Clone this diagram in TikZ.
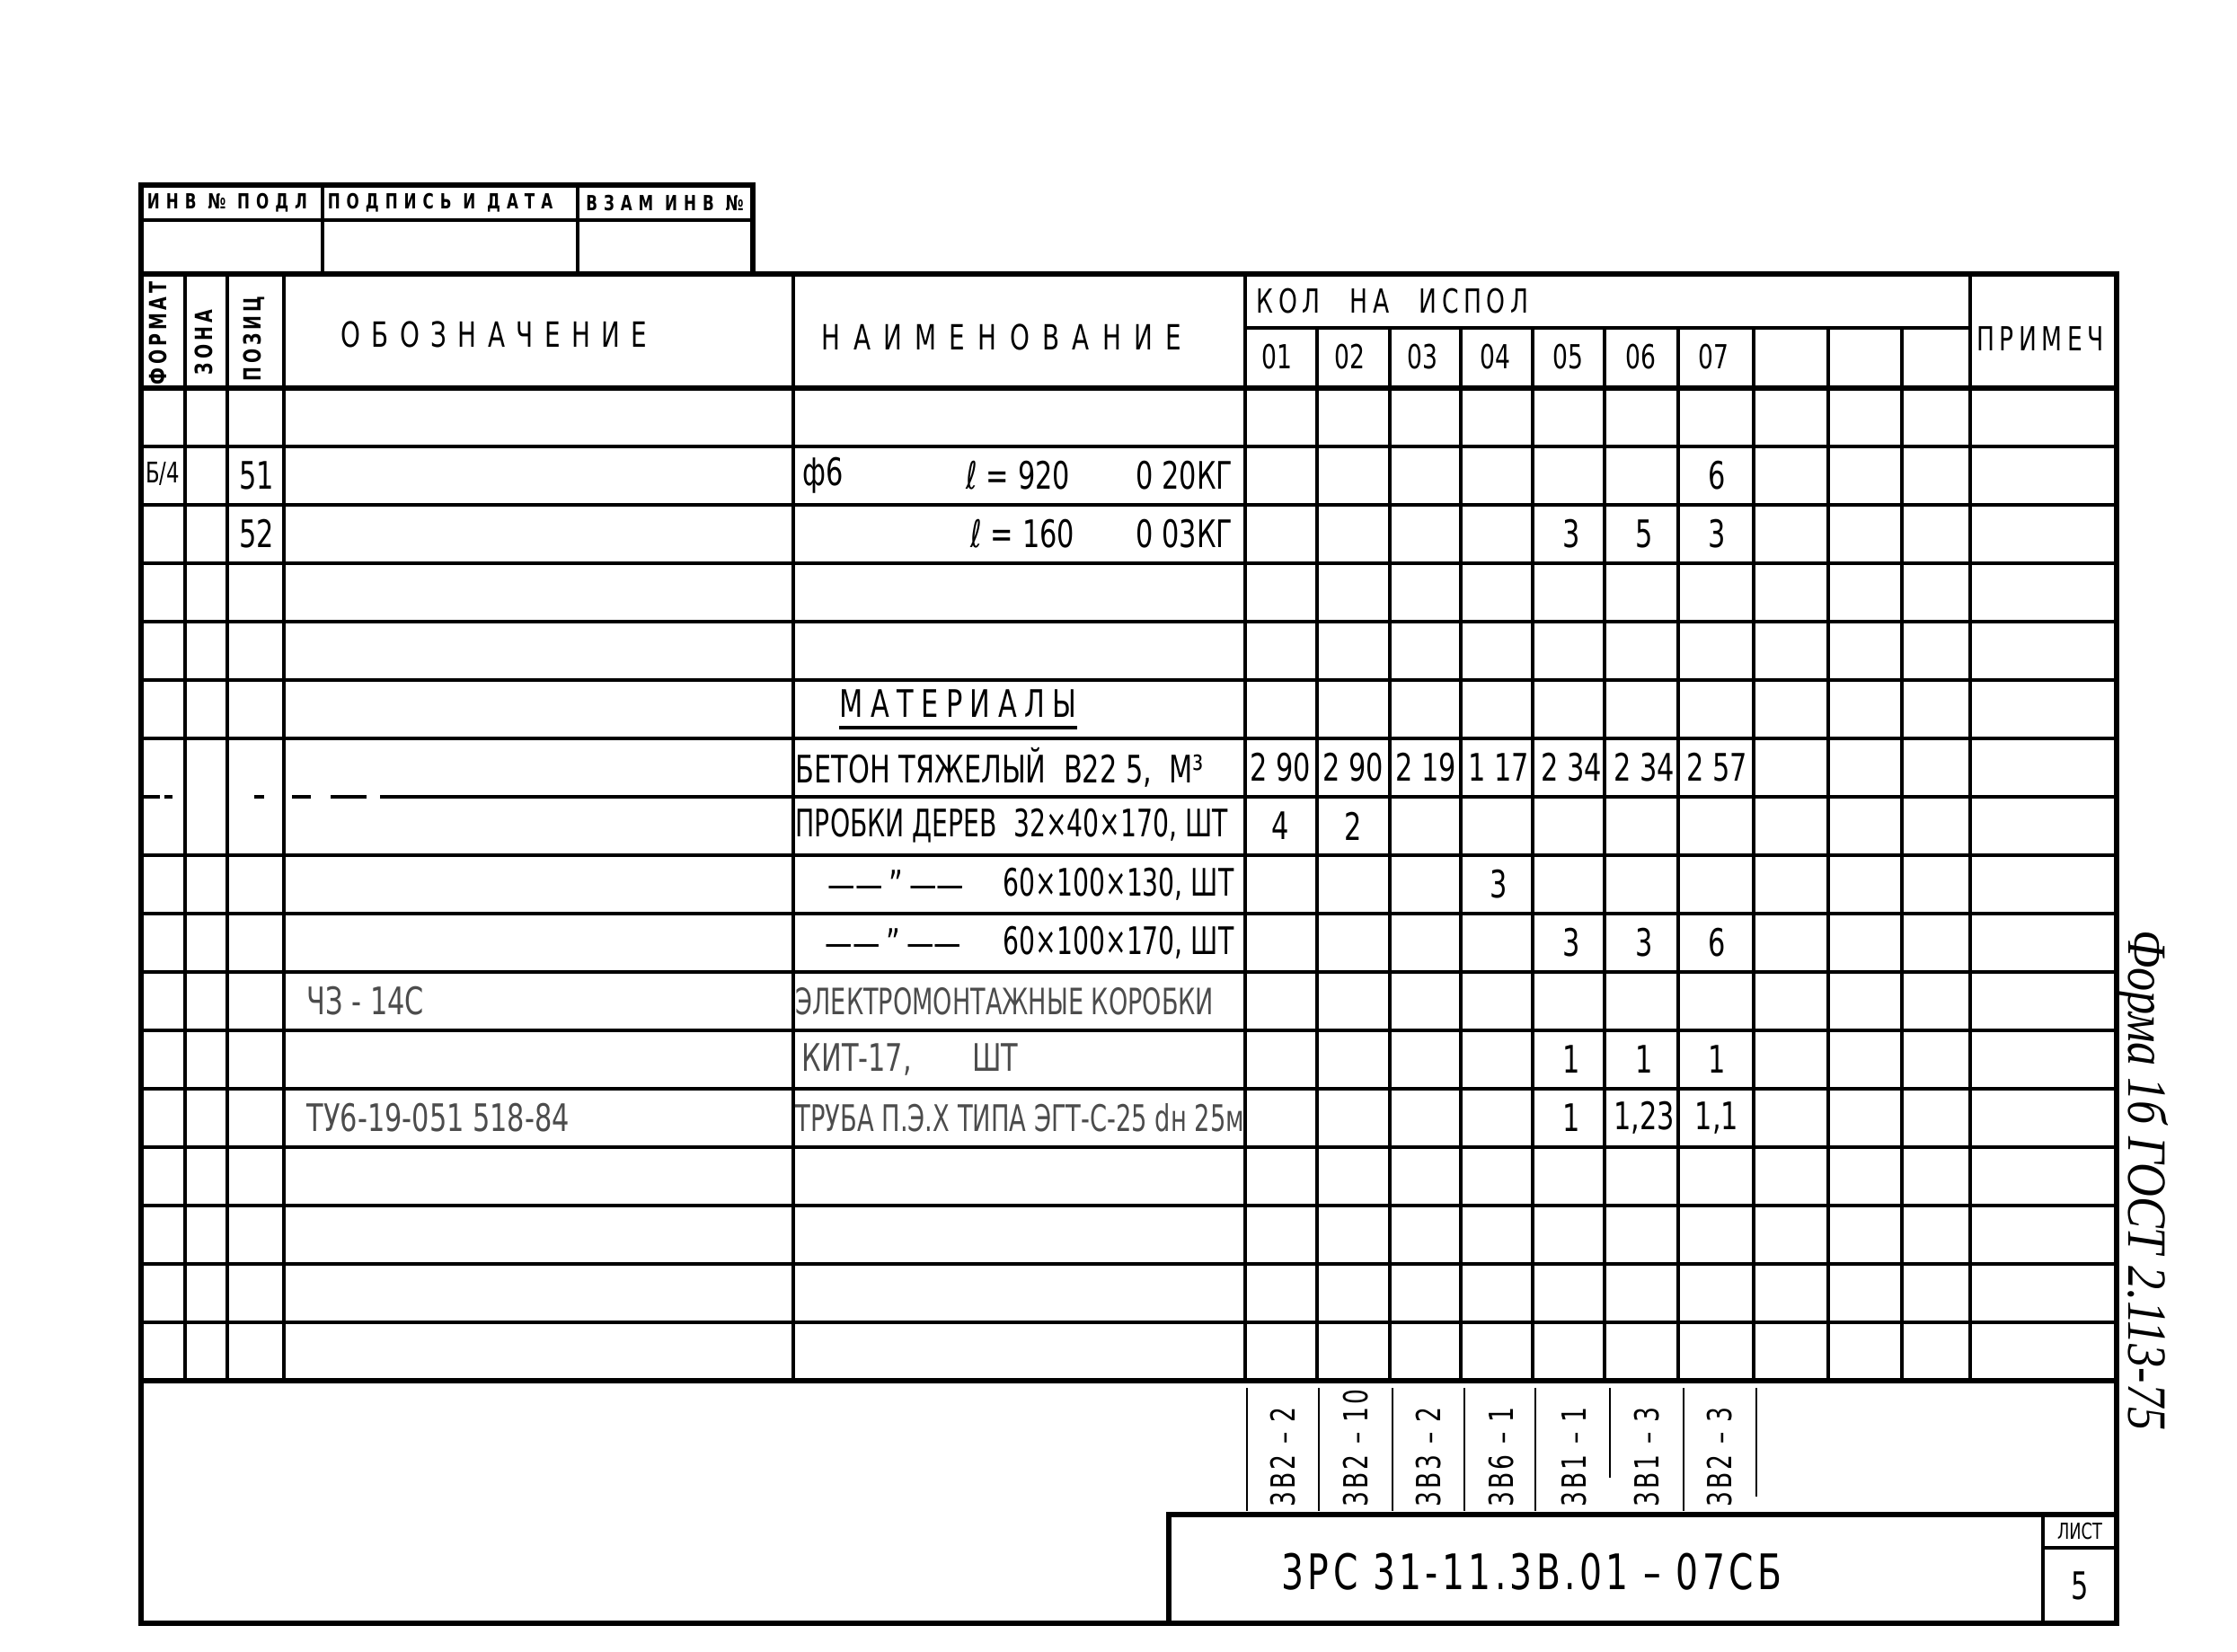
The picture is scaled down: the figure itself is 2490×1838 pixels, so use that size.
\documentclass[tikz,border=0pt]{standalone}
\usepackage{fontspec}
\setmainfont{DejaVu Sans}[FakeStretch=0.72]
\newfontfamily\narrowFont{DejaVu Sans}[FakeStretch=0.67]
\newfontfamily\handFont{Liberation Serif}[FakeStretch=0.85]
\usepackage{tikz}
\tikzstyle{frameLine}=[line width=1.5pt]
\tikzstyle{formLine}=[line width=1.1pt]
\tikzstyle{thinLine}=[line width=0.7pt]
\tikzstyle{stampText}=[inner sep=0pt, font=\bfseries\fontsize{6.6}{7}\selectfont\addfontfeatures{LetterSpace=30}]
\tikzstyle{sideHead}=[inner sep=0pt, rotate=90, font=\bfseries\fontsize{7.5}{8}\selectfont\addfontfeatures{LetterSpace=15}]
\tikzstyle{mainHead}=[inner sep=0pt, font=\fontsize{11}{11}\selectfont\addfontfeatures{LetterSpace=32}]
\tikzstyle{numText}=[inner sep=0pt, font=\fontsize{10.5}{11}\selectfont]
\tikzstyle{rowText}=[inner sep=0pt, anchor=west, font=\fontsize{12}{12}\selectfont]
\tikzstyle{narrowText}=[inner sep=0pt, anchor=west, font=\narrowFont\fontsize{12}{12}\selectfont]
\tikzstyle{qtyText}=[inner sep=0pt, font=\fontsize{12}{12}\selectfont]
\tikzstyle{codeText}=[inner sep=0pt, rotate=90, anchor=west, font=\fontsize{10.5}{11}\selectfont\addfontfeatures{LetterSpace=8}]
\tikzstyle{fadedText}=[text=black!70]

\begin{document}
\begin{tikzpicture}[x=0.01cm, y=-0.01cm]
   \useasboundingbox (0,0) rectangle (2490,1838);

   % stamp and outer frame
   \draw[frameLine] (157,206) rectangle (838,305);
   \draw[formLine] (157,245) -- (838,245);
   \draw[formLine] (359,206) -- (359,305);
   \draw[formLine] (643,206) -- (643,305);
   \draw[frameLine] (157,305) rectangle (2356,1807);

   % header and grid
   \draw[frameLine] (157,432) -- (2356,432);
   \draw[formLine] (1386,365) -- (2193,365);
   \foreach \x in {206,253,316,883,1386,2193}
      \draw[formLine] (\x,305) -- (\x,1537);
   \foreach \x in {1466,1547,1626,1706,1786,1868,1952,2035,2117}
      \draw[formLine] (\x,365) -- (\x,1537);
   \foreach \k in {1,2,3,4,5,6,8,9,10,11,12,13,14,15,16}
      \draw[formLine] (157,{432+65*\k}) -- (2356,{432+65*\k});
   \draw[formLine] (160,887) -- (178,887) (183,887) -- (192,887) (283,887) -- (294,887)
      (325,887) -- (346,887) (368,887) -- (408,887) (423,887) -- (2356,887);
   \draw[frameLine] (157,1537) -- (2356,1537);

   % sign-off columns and title block
   \foreach \x in {1388,1468,1550,1630,1709,1874}
      \draw[thinLine] (\x,1545) -- (\x,1682);
   \draw[thinLine] (1792,1545) -- (1792,1645);
   \draw[thinLine] (1955,1545) -- (1955,1666);
   \draw[frameLine] (1301,1807) -- (1301,1686) -- (2356,1686);
   \draw[formLine] (2274,1686) -- (2274,1807);
   \draw[formLine] (2274,1723) -- (2356,1723);

   % header texts
   \node[stampText] (hInv) at (253,226) {ИНВ № ПОДЛ};
   \node[stampText] (hSign) at (490,226) {ПОДПИСЬ И ДАТА};
   \node[stampText] (hRepl) at (740,226) {ВЗАМ ИНВ №};
   \node[sideHead] (hFormat) at (176,371) {ФОРМАТ};
   \node[sideHead] (hZone) at (227,381) {ЗОНА};
   \node[sideHead] (hPos) at (283,377) {ПОЗИЦ};
   \node[mainHead] (hDesig) at (550,372) {ОБОЗНАЧЕНИЕ};
   \node[mainHead, font=\fontsize{11}{11}\selectfont\addfontfeatures{LetterSpace=37}] (hName) at (1115,375) {НАИМЕНОВАНИЕ};
   \node[numText, anchor=west, font=\fontsize{10.5}{11}\selectfont\addfontfeatures{LetterSpace=15}] (hQty) at (1398,335) {КОЛ\hspace{0.9em}НА\hspace{0.9em}ИСПОЛ};
   \node[mainHead, font=\fontsize{10.5}{11}\selectfont\addfontfeatures{LetterSpace=15}] (hNote) at (2271,377) {ПРИМЕЧ};
   \foreach \lab [count=\i] in {01,02,03,04,05,06,07}
      \node[numText] (col\i) at ({1421+81*(\i-1)},397) {\lab};

   % rows
   \node[qtyText, font=\fontsize{9}{9}\selectfont] (fmt51) at (181,527) {Б/4};
   \node[qtyText] (pos51) at (286,529.5) {51};
   \node[rowText] (rod51) at (893,529.5) {ф6};
   \node[rowText] (len51) at (1075,529.5) {ℓ = 920};
   \node[rowText] (mass51) at (1264,529.5) {0 20КГ};
   \node[qtyText] (q51g) at (1911,529.5) {6};
   \node[qtyText] (pos52) at (286,594.5) {52};
   \node[rowText] (len52) at (1080,594.5) {ℓ = 160};
   \node[rowText] (mass52) at (1264,594.5) {0 03КГ};
   \node[qtyText] (q52e) at (1749,594.5) {3};
   \node[qtyText] (q52f) at (1830,594.5) {5};
   \node[qtyText] (q52g) at (1911,594.5) {3};

   \node[rowText, font=\fontsize{12}{12}\selectfont\addfontfeatures{LetterSpace=20}] (mat) at (934,783) {МАТЕРИАЛЫ};
   \draw[formLine] ([yshift=-3pt]mat.south west) -- ([yshift=-3pt]mat.south east);

   \node[rowText] (conc) at (885,854.5) {БЕТОН ТЯЖЕЛЫЙ\ \ В22 5,\ \ М³};
   \foreach \v [count=\i] in {2 90,2 90,2 19,1 17,2 34,2 34,2 57}
      \node[qtyText] (qc\i) at ({1425+81*(\i-1)},854.5) {\v};

   \node[narrowText] (plugA) at (885,919.5) {ПРОБКИ ДЕРЕВ\ \ 32×40×170, ШТ};
   \node[qtyText] (qpa) at (1425,919.5) {4};
   \node[qtyText] (qpb) at (1506,919.5) {2};

   \node[rowText] (dittoB) at (921,984.5) {——\,"\,——};
   \node[narrowText] (plugB) at (1116,984.5) {60×100×130, ШТ};
   \node[qtyText] (qpd) at (1668,984.5) {3};

   \node[rowText] (dittoC) at (918,1049.5) {——\,"\,——};
   \node[narrowText] (plugC) at (1116,1049.5) {60×100×170, ШТ};
   \node[qtyText] (qce) at (1749,1049.5) {3};
   \node[qtyText] (qcf) at (1830,1049.5) {3};
   \node[qtyText] (qcg) at (1911,1049.5) {6};

   \node[rowText, fadedText] (boxDes) at (341,1114.5) {ЧЗ - 14С};
   \node[narrowText, fadedText, font=\narrowFont\fontsize{11.5}{12}\selectfont] (boxName) at (885,1114.5) {ЭЛЕКТРОМОНТАЖНЫЕ КОРОБКИ};
   \node[rowText, fadedText] (boxType) at (892,1179.5) {КИТ-17,\hspace{1.6em}ШТ};
   \node[qtyText] (qbe) at (1749,1179.5) {1};
   \node[qtyText] (qbf) at (1830,1179.5) {1};
   \node[qtyText] (qbg) at (1911,1179.5) {1};

   \node[rowText, fadedText] (pipeDes) at (341,1244.5) {ТУ6-19-051 518-84};
   \node[narrowText, fadedText, font=\narrowFont\fontsize{11.6}{12}\selectfont] (pipeName) at (885,1244.5) {ТРУБА П.Э.Х ТИПА ЭГТ-С-25 dн 25м};
   \node[qtyText] (qte) at (1749,1244.5) {1};
   \node[qtyText] (qtf) at (1830,1244.5) {1,23};
   \node[qtyText] (qtg) at (1911,1244.5) {1,1};

   % sign-off codes
   \foreach \lab [count=\i] in {3В2 – 2,3В2 – 10,3В3 – 2,3В6 – 1,3В1 – 1,3В1 – 3,3В2 – 3}
      \node[codeText] (code\i) at ({1428+81*(\i-1)},1678) {\lab};

   % title block
   \node[qtyText, font=\fontsize{15.5}{16}\selectfont\addfontfeatures{LetterSpace=8}] (docNo) at (1705,1750) {3РС 31-11.3В.01 – 07СБ};
   \node[qtyText, font=\fontsize{7}{7}\selectfont] (sheetHd) at (2315,1705) {ЛИСТ};
   \node[qtyText] (sheetNo) at (2315,1765) {5};

   \node[inner sep=0pt, rotate=-90, font=\handFont\itshape\fontsize{17.5}{18}\selectfont] (formNote) at (2385,1314) {Форма 1б ГОСТ 2.113-75};
\end{tikzpicture}
\end{document}
